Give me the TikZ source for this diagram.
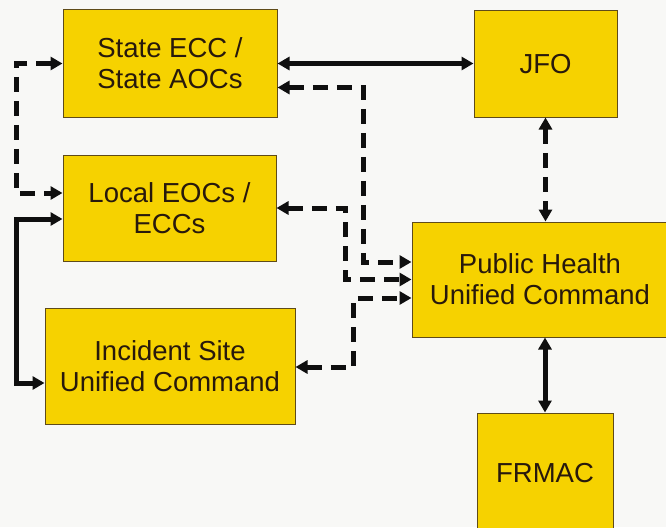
\documentclass[tikz,border=0pt]{standalone}
\usepackage{fontspec}
\setmainfont{Liberation Sans}
\usetikzlibrary{arrows.meta,calc}
\definecolor{boxfill}{RGB}{246,210,0}
\definecolor{boxline}{RGB}{95,75,25}
\definecolor{txt}{RGB}{40,25,12}
\definecolor{bg}{RGB}{248,248,246}
\definecolor{ink}{RGB}{15,15,15}
\tikzset{
  box/.style={draw=boxline, line width=1pt, fill=boxfill, text=txt, inner sep=0pt,
    align=center, font=\fontsize{27.5}{31}\selectfont},
  sol/.style={draw=ink, line width=5pt, {Triangle[length=12pt,width=13pt]}-{Triangle[length=12pt,width=13pt]}},
  dsh/.style={sol, dash pattern=on 15pt off 9pt},
}
\begin{document}
\begin{tikzpicture}[x=1pt,y=-1pt]
\fill[bg] (0,0) rectangle (666,527);
\useasboundingbox (0,0) rectangle (666,527);
\node[box, minimum width=214pt, minimum height=107pt] (st) at (170,63.5) {State ECC /\\State AOCs};
\node[box, minimum width=143pt, minimum height=106pt] (jfo) at (545.5,64) {JFO};
\node[box, minimum width=213pt, minimum height=106pt] (lo) at (169.5,208) {Local EOCs /\\ECCs};
\node[box, minimum width=256pt, minimum height=115pt] (ph) at (540,279.5) {Public Health\\Unified Command};
\node[box, minimum width=250pt, minimum height=116pt] (inc) at (170,366) {Incident Site\\Unified Command};
\node[box, minimum width=136pt, minimum height=120pt] (fr) at (545,473) {FRMAC};
% solid connectors
\draw[sol] (st.east) -- (st.east -| jfo.west);
\draw[sol] (ph.south -| fr.north) -- (fr.north);
\draw[sol] ([yshift=-11pt]lo.west) -- ++(-46pt,0) |- ([yshift=-17pt]inc.west);
% dashed connectors
\draw[dsh] (jfo.south) -- (jfo.south |- ph.north);
\draw[dsh] (st.west) -- ++(-46pt,0) |- ([yshift=15pt]lo.west);
\draw[dsh] ([yshift=-24pt]st.east) -- ++(86pt,0) |- ([yshift=17.5pt]ph.west);
\draw[dsh] (lo.east) -- ++(69pt,0) |- (ph.west);
\draw[dsh] ([yshift=-1pt]inc.east) -- ++(58pt,0) |- ([yshift=-18.5pt]ph.west);
\end{tikzpicture}
\end{document}
